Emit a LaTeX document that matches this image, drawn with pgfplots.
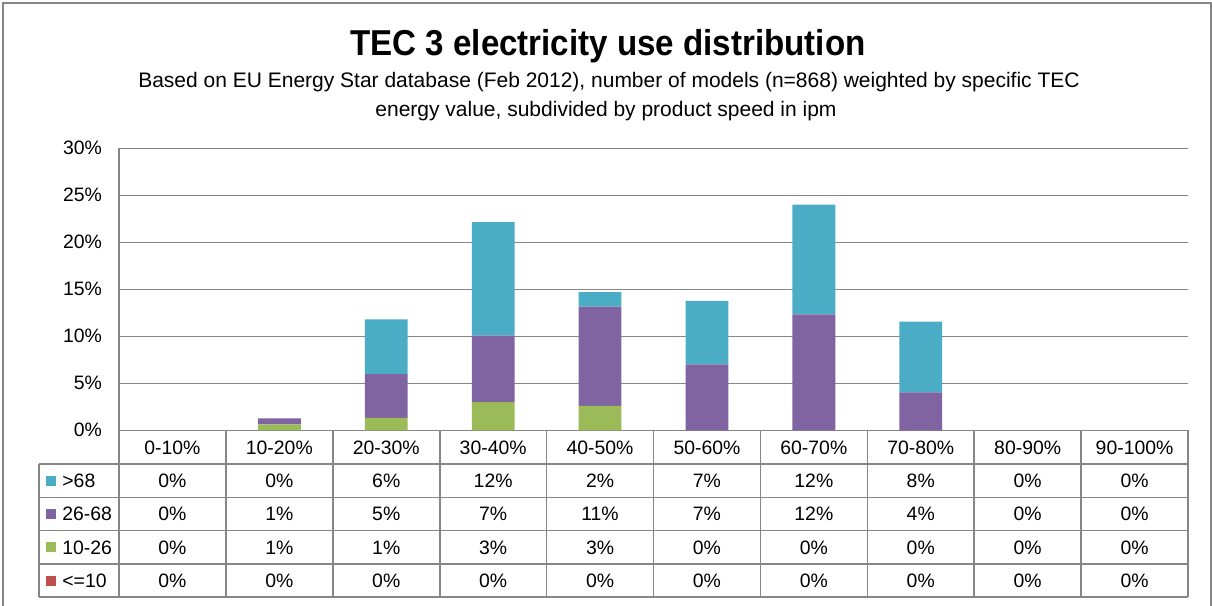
\documentclass[border=0pt]{standalone}
\usepackage{fontspec}
\setmainfont{Liberation Sans}
\usepackage{graphicx}
\usepackage{pgfplots}
\pgfplotsset{compat=1.18}
\usepackage{pgfplotstable}

\definecolor{sOver}{HTML}{4BACC6}
\definecolor{sMid}{HTML}{8064A2}
\definecolor{sLow}{HTML}{9BBB59}
\definecolor{sMin}{HTML}{C0504D}
\definecolor{lineGray}{HTML}{868686}

% share of TEC energy (%) per speed class, by ipm group
\pgfplotstableread{
x  le10  b10  b26   gt68
0  0     0    0     0
1  0     0.64 0.64  0
2  0     1.31 4.68  5.82
3  0     3.01 7.05  12.1
4  0     2.6  10.55 1.55
5  0     0    7.02  6.74
6  0     0    12.34 11.66
7  0     0    4.04  7.51
8  0     0    0     0
9  0     0    0     0
}\tecdata

\newcommand{\tabfont}{\fontsize{9.7}{11}\selectfont}

\begin{document}
\begin{tikzpicture}
\begin{scope}[x=0.5pt,y=-0.5pt]
  \useasboundingbox (0,0) rectangle (1212,606);
  \draw[lineGray, line width=0.6pt] (3,606) -- (3,3) -- (1211,3) -- (1211,606);
  \node[anchor=base, font=\bfseries\fontsize{18}{20}\selectfont] at (608,55)
    {\scalebox{0.92}[1]{TEC 3 electricity use distribution}};
  \node[anchor=base, font=\fontsize{10.5}{12}\selectfont] at (609,87)
    {Based on EU Energy Star database (Feb 2012), number of models (n=868) weighted by specific TEC};
  \node[anchor=base, font=\fontsize{10.5}{12}\selectfont] at (606,116)
    {energy value, subdivided by product speed in ipm};
\end{scope}

\begin{axis}[
  at={(59.5pt,-215.15pt)}, anchor=south west,
  scale only axis, width=534.5pt, height=141pt,
  xmin=-0.5, xmax=9.5, ymin=0, ymax=30,
  ybar stacked, bar width=21.4pt,
  xtick={0,...,9},
  xticklabels={0-10\%,10-20\%,20-30\%,30-40\%,40-50\%,50-60\%,60-70\%,70-80\%,80-90\%,90-100\%},
  ytick={0,5,...,30},
  yticklabel={\pgfmathprintnumber{\tick}\%},
  /pgf/number format/assume math mode=true,
  ymajorgrids, grid style={lineGray, line width=0.8pt},
  axis x line*=bottom, axis y line*=left,
  axis line style={lineGray, line width=0.8pt},
  tick style={draw=none},
  tick label style={font=\tabfont},
  xticklabel style={anchor=base, yshift=-12.1pt},
  yticklabel style={xshift=-5pt},
]
\addplot[fill=sMin, draw=none] table[x=x, y=le10]{\tecdata};
\addplot[fill=sLow, draw=none] table[x=x, y=b10]{\tecdata};
\addplot[fill=sMid, draw=none] table[x=x, y=b26]{\tecdata};
\addplot[fill=sOver, draw=none] table[x=x, y=gt68]{\tecdata};
\end{axis}

\begin{scope}[x=0.5pt,y=-0.5pt]
  % data table under the bars
  \foreach \k in {0,...,10}
    \draw[lineGray, line width=0.8pt] ({119+106.9*\k},430) -- ({119+106.9*\k},597.2);
  \foreach \yy in {464,497.3,530.6,563.9,597.2}
    \draw[lineGray, line width=0.8pt] (39,\yy) -- (1188,\yy);
  \draw[lineGray, line width=0.8pt] (39,464) -- (39,597.2);
  \foreach \lab/\col [count=\r from 0] in {>68/sOver, 26-68/sMid, 10-26/sLow, <=10/sMin} {
    \fill[\col] (46,{464+33.3*(\r+0.5)-5}) rectangle (56,{464+33.3*(\r+0.5)+5});
    \node[anchor=base west, inner sep=0pt, font=\tabfont] at (62,{464+33.3*(\r+0.5)+7}) {\lab};
  }
  \foreach \vals [count=\r from 0] in {{0,0,6,12,2,7,12,8,0,0},{0,1,5,7,11,7,12,4,0,0},{0,1,1,3,3,0,0,0,0,0},{0,0,0,0,0,0,0,0,0,0}}
    \foreach \v [count=\c from 0] in \vals
      \node[anchor=base, inner sep=0pt, font=\tabfont] at ({119+106.9*(\c+0.5)},{464+33.3*(\r+0.5)+7}) {\v\%};
\end{scope}
\end{tikzpicture}
\end{document}
